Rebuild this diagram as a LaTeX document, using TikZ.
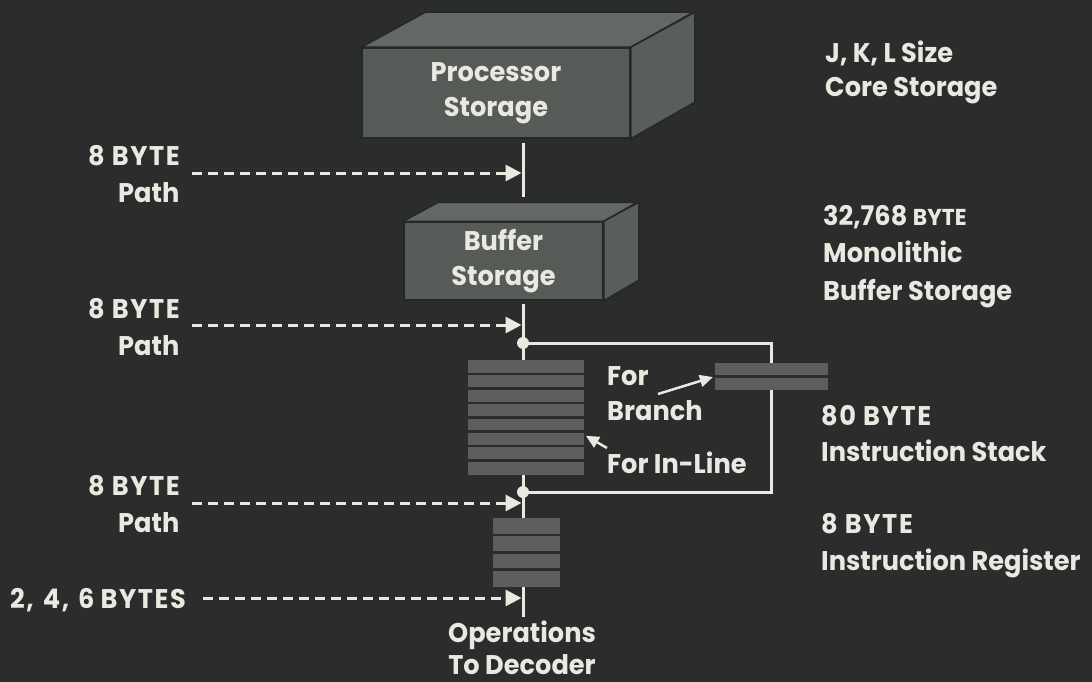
\documentclass[tikz,border=0pt]{standalone}
\usepackage{fontspec}
\setmainfont{Poppins}[FakeStretch=0.95]
\usetikzlibrary{arrows.meta,calc}
\definecolor{bg}{HTML}{2A2D2B}
\definecolor{fg}{HTML}{E9E9E1}
\definecolor{front}{HTML}{575B58}
\definecolor{topf}{HTML}{646865}
\definecolor{side}{HTML}{5A5E5B}
\definecolor{edge}{HTML}{252826}
\definecolor{stripe}{HTML}{5C5F5C}
\begin{document}
\begin{tikzpicture}[x=1pt,y=-1pt,
  txt/.style={text=fg, font=\fontsize{27}{36}\selectfont\bfseries, inner sep=0pt, anchor=base west},
  capstxt/.style={txt, font=\fontsize{27}{36}\selectfont\bfseries\addfontfeature{LetterSpace=6}},
  txtc/.style={txt, anchor=base},
  frontbox/.style={fill=front, draw=edge, line width=1.5pt, inner sep=0pt, text=fg,
    font=\fontsize{27}{35}\selectfont\bfseries, align=center},
  face/.style={draw=edge, line width=1.5pt},
  stripes/.style={fill=stripe, inner sep=0pt},
  gap/.style={draw=bg, line width=2.5pt},
  wire/.style={draw=fg, line width=3pt},
  dasharrow/.style={draw=fg, line width=3pt, dash pattern=on 10pt off 6pt,
    -{Triangle[length=16pt,width=16pt]}, shorten >=1.5pt},
  dot/.style={circle, fill=fg, minimum size=12pt, inner sep=0pt},
  ptr/.style={draw=fg, line width=2.5pt, -{Triangle[length=13pt,width=12pt]}, shorten >=2pt}]
\fill[bg] (0,0) rectangle (1092,682);
\useasboundingbox (0,0) rectangle (1092,682);

% Processor storage box
\node[frontbox, minimum width=268pt, minimum height=90pt] (proc) at (496,93) {Processor\\Storage};
\filldraw[face, fill=topf] (proc.north west) -- ++(64,-35) -- ++(268,0) -- (proc.north east) -- cycle;
\filldraw[face, fill=side] (proc.north east) -- ++(64,-35) -- ++(0,90) -- (proc.south east) -- cycle;

% Buffer storage box
\node[frontbox, minimum width=199pt, minimum height=78pt] (buf) at (503.5,261) {Buffer\\Storage};
\filldraw[face, fill=topf] (buf.north west) -- ++(35,-19) -- ++(199,0) -- (buf.north east) -- cycle;
\filldraw[face, fill=side] (buf.north east) -- ++(35,-19) -- ++(0,78) -- (buf.south east) -- cycle;

% Instruction stack (in-line)
\node[stripes, minimum width=116pt, minimum height=115pt] (stk) at (526,417.5) {};
\foreach \i in {1,...,7} \draw[gap] ($(stk.north west)+(0,\i*14.375)$) -- ++(116,0);

% Branch buffer
\node[stripes, minimum width=113pt, minimum height=27pt] (br) at (771.5,376.5) {};
\draw[gap] (br.west) -- (br.east);

% Instruction register
\node[stripes, minimum width=67pt, minimum height=69pt] (reg) at (526.5,552.5) {};
\foreach \i in {1,...,3} \draw[gap] ($(reg.north west)+(0,\i*17.25)$) -- ++(67,0);

% junctions and ends
\coordinate (v1a) at (523,143);
\coordinate (v1b) at (523,197);
\coordinate (v2a) at (523,304);
\coordinate (j1) at (523,343);
\coordinate (j2) at (523,492);
\coordinate (vend) at (523,617);

\draw[wire] (v1a) -- (v1b);
\draw[wire] (v2a) -- (stk.north -| j1);
\draw[wire] (j1) -- (j1 -| br.north) -- (br.north);
\draw[wire] (br.south) -- (br.south |- j2) -- (j2);
\draw[wire] (stk.south -| j2) -- (reg.north -| j2);
\draw[wire] (reg.south -| j2) -- (vend);
\node[dot] (d1) at (j1) {};
\node[dot] (d2) at (j2) {};

% dashed arrows
\coordinate (s1) at (192,173);
\coordinate (s2) at (192,325);
\coordinate (s3) at (192,503);
\coordinate (s4) at (203,598);
\draw[dasharrow] (s1) -- (s1 -| v1a);
\draw[dasharrow] (s2) -- (s2 -| j1);
\draw[dasharrow] (s3) -- (s3 -| j2);
\draw[dasharrow] (s4) -- (s4 -| vend);

% small pointers
\coordinate (fb) at (658,394);
\coordinate (fil) at (607,448);
\draw[ptr] (fb) -- (br.west);
\draw[ptr] (fil) -- ($(stk.south east)!0.35!(stk.north east)$);

% labels left
\node[capstxt] (l1a) at (88,165) {8 BYTE};
\node[txt] (l1b) at (118,202) {Path};
\node[capstxt] (l2a) at (88,318) {8 BYTE};
\node[txt] (l2b) at (118,355) {Path};
\node[capstxt] (l3a) at (88,495) {8 BYTE};
\node[txt] (l3b) at (118,532) {Path};
\node[capstxt] (l4) at (10,608) {2,\hspace{9pt}4,\hspace{9pt}6\hspace{6pt}BYTES};

% labels middle
\node[txt] (fo) at (607,385) {For};
\node[txt] (bra) at (607,420) {Branch};
\node[txt] (inl) at (607,473) {For In-Line};
\node[txtc] (op1) at (522,642) {Operations};
\node[txtc] (op2) at (522,674) {To Decoder};

% labels right
\node[txt] (r1a) at (825,63) {J, K, L Size};
\node[txt] (r1b) at (825,97) {Core Storage};
\node[txt] (r2a) at (823,225) {32,768 {\fontsize{23}{30}\selectfont BYTE}};
\node[txt] (r2b) at (823,262) {Monolithic};
\node[txt] (r2c) at (823,300) {Buffer Storage};
\node[capstxt] (r3a) at (821,425) {80 BYTE};
\node[txt] (r3b) at (821,461) {Instruction Stack};
\node[capstxt] (r4a) at (821,533) {8 BYTE};
\node[txt] (r4b) at (821,570) {Instruction Register};
\end{tikzpicture}
\end{document}
